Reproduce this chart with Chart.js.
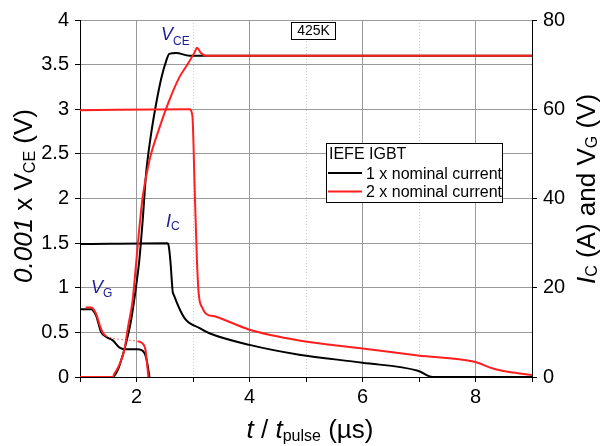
<!DOCTYPE html>
<html>
<head>
<meta charset="utf-8">
<script src="https://cdn.jsdelivr.net/npm/chart.js@4"></script>
<style>
body{margin:0;background:#fff}
#wrap{width:601px;height:446px}
</style>
</head>
<body>
<div id="wrap"><canvas id="grafico" width="601" height="446"></canvas></div>
<script>
// 1 x nominal current (preto)
var tVce1 = [1, 1.58, 1.67, 1.73, 1.79, 1.9, 2.0, 2.05, 2.11, 2.17, 2.26, 2.35, 2.44, 2.53, 2.58, 2.7, 2.94, 9];
var vce1  = [0, 0, 0.08, 0.19, 0.32, 0.62, 1.05, 1.31, 1.76, 2.28, 2.73, 3.07, 3.35, 3.55, 3.62, 3.63, 3.6, 3.6];
var tIc1 = [1, 2.55, 2.57, 2.6, 2.64, 2.66, 2.85, 3.11, 3.29, 4.0, 4.88, 6.0, 6.98, 7.24, 9];
var ic1  = [29.8, 30, 29.4, 26, 19.2, 18.4, 13.2, 11, 9.8, 7.2, 5.0, 3.2, 1.4, 0, 0];
var tVg1 = [1, 1.2, 1.25, 1.29, 1.37, 1.46, 1.58, 1.7, 1.82, 2.02, 2.14, 2.18, 2.23];
var vg1  = [15.2, 15.2, 14.6, 13.6, 10.2, 9.0, 8.2, 6.6, 6.2, 6.2, 5.4, 3.8, 0];

// 2 x nominal current (vermelho)
var tVce2 = [1, 1.58, 1.61, 1.67, 1.73, 1.79, 1.85, 1.93, 1.99, 2.04, 2.11, 2.23, 2.41, 2.58, 2.76, 2.91, 3.03, 3.07, 3.14, 3.23, 9];
var vce2  = [0, 0, 0.04, 0.1, 0.19, 0.32, 0.56, 0.85, 1.25, 1.6, 2.02, 2.43, 2.8, 3.1, 3.36, 3.51, 3.64, 3.69, 3.63, 3.6, 3.6];
var tIc2 = [1, 2.94, 2.99, 3.03, 3.07, 3.1, 3.17, 3.23, 3.41, 4.0, 4.88, 6.0, 6.98, 7.98, 8.31, 8.66, 9];
var ic2  = [59.8, 60, 58.4, 42, 26, 18.8, 15.4, 14.2, 13.5, 10.6, 8.2, 6.4, 4.8, 3.4, 1.9, 1.0, 0.45];
var tVg2 = [1.1, 1.2, 1.25, 1.29, 1.35, 1.4, 1.46, 2.02, 2.1, 2.16, 2.18, 2.21];
var vg2  = [15.6, 15.6, 15, 14, 11.6, 10, 9.2, 8.0, 7.6, 6.0, 3.8, 0];

var xTicks = [2, 4, 6, 8];
var legendTitle = "IEFE IGBT";
var legendNames = ["1 x nominal current", "2 x nominal current"];
var tempLabel = "425K";

var PRETO = "#000000";
var VERMELHO = "#ff1f1f";
var AZUL = "#1c1c96";
var FONTE = '"Liberation Sans", Arial, sans-serif';

function pontos(t, v){
    return t.map(function(x, i){ return {x: x, y: v[i]}; });
}

function linha(dados, cor, eixo){
    return {
        data: dados,
        borderColor: cor,
        borderWidth: 2,
        pointRadius: 0,
        fill: false,
        cubicInterpolationMode: 'monotone',
        yAxisID: eixo
    };
}

// texto com subscrito e italico
function rico(ctx, partes, x, y, tam, alinhar, escSub, desloc){
    function fonte(p){
        var s = p[2] ? Math.round(tam * escSub) : tam;
        return (p[1] == 'i' ? 'italic ' : '') + s + 'px ' + FONTE;
    }
    var w = 0;
    partes.forEach(function(p){ ctx.font = fonte(p); w += ctx.measureText(p[0]).width; });
    var cx = alinhar == 'center' ? x - w / 2 : x;
    ctx.textAlign = 'left';
    ctx.textBaseline = 'alphabetic';
    partes.forEach(function(p){
        ctx.font = fonte(p);
        ctx.fillText(p[0], cx, y + (p[2] ? tam * desloc : 0));
        cx += ctx.measureText(p[0]).width;
    });
}

var textos = {
    id: 'textos',
    afterDraw: function(chart){
        var ctx = chart.ctx;
        ctx.save();
        ctx.fillStyle = PRETO;

        // titulos dos eixos
        rico(ctx, [['t','i'],[' / ','n'],['t','i'],['pulse','n',1],[' (\u00b5s)','n']], 310, 438, 26, 'center', 0.62, 0.13);

        ctx.save();
        ctx.translate(32, 196);
        ctx.rotate(-Math.PI / 2);
        rico(ctx, [['0.001','i'],[' x V','n'],['CE','n',1],[' (V)','n']], 0, 0, 26, 'center', 0.6, 0.1);
        ctx.restore();

        ctx.save();
        ctx.translate(595, 189);
        ctx.rotate(-Math.PI / 2);
        rico(ctx, [['I','i'],['C','n',1],[' (A) and V','n'],['G','n',1],[' (V)','n']], 0, 0, 26, 'center', 0.6, 0.08);
        ctx.restore();

        // anotacoes
        ctx.fillStyle = AZUL;
        rico(ctx, [['V','i'],['CE','n',1]], 161, 40, 18, 'left', 0.66, 0.27);
        rico(ctx, [['I','i'],['C','n',1]], 166, 227, 18, 'left', 0.66, 0.15);
        rico(ctx, [['V','i'],['G','n',1]], 91, 293, 18, 'left', 0.66, 0.22);

        // caixa 425K
        ctx.fillStyle = '#fff';
        ctx.fillRect(291.5, 22.5, 44, 17);
        ctx.strokeStyle = PRETO;
        ctx.lineWidth = 1;
        ctx.strokeRect(291.5, 22.5, 44, 17);
        ctx.fillStyle = PRETO;
        ctx.font = '14px ' + FONTE;
        ctx.textAlign = 'center';
        ctx.textBaseline = 'middle';
        ctx.fillText(tempLabel, 313.5, 31.5);

        // legenda
        ctx.fillStyle = '#fff';
        ctx.fillRect(326.5, 143.5, 176, 59);
        ctx.strokeRect(326.5, 143.5, 176, 59);
        ctx.fillStyle = PRETO;
        ctx.textAlign = 'left';
        ctx.textBaseline = 'alphabetic';
        ctx.font = '16px ' + FONTE;
        ctx.fillText(legendTitle, 329, 159);
        var cores = [PRETO, VERMELHO];
        for (var i = 0; i < 2; i++) {
            var yy = 173 + i * 18.5;
            ctx.strokeStyle = cores[i];
            ctx.lineWidth = 2;
            ctx.beginPath();
            ctx.moveTo(328, yy);
            ctx.lineTo(362, yy);
            ctx.stroke();
            ctx.fillText(legendNames[i], 366, yy + 5.5);
        }
        ctx.restore();
    }
};

function vgSegmento(c){
    return (c.datasetIndex === 2 && c.p0DataIndex === 6) ? [1, 3] : undefined;
}

var grafico = new Chart(document.getElementById('grafico'), {
    type: 'line',
    data: {
        datasets: [
            linha(pontos(tVce2, vce2), VERMELHO, 'y'),
            linha(pontos(tIc2, ic2), VERMELHO, 'y1'),
            Object.assign(linha(pontos(tVg2, vg2), VERMELHO, 'y1'), {
                segment: {
                    borderDash: vgSegmento,
                    borderWidth: function(c){ return c.p0DataIndex === 6 ? 1.3 : undefined; }
                }
            }),
            linha(pontos(tVce1, vce1), PRETO, 'y'),
            linha(pontos(tIc1, ic1), PRETO, 'y1'),
            linha(pontos(tVg1, vg1), PRETO, 'y1')
        ]
    },
    options: {
        responsive: false,
        animation: false,
        layout: {padding: {top: 20, left: 0, right: 0, bottom: 0}},
        plugins: {legend: {display: false}, tooltip: {enabled: false}},
        scales: {
            x: {
                type: 'linear', min: 1, max: 9,
                afterFit: function(s){ s.height = 69; },
                ticks: {
                    stepSize: 1, color: PRETO, padding: 3,
                    font: {size: 20, family: FONTE},
                    callback: function(v){ return xTicks.indexOf(v) >= 0 ? String(v) : ''; }
                },
                grid: {
                    color: function(c){ return c.tick && c.tick.value % 2 == 0 ? '#9a9a9a' : '#cccccc'; },
                    tickColor: PRETO, tickLength: 5
                },
                border: {
                    color: PRETO, width: 1,
                    dash: function(c){ return c.tick && c.tick.value % 2 != 0 ? [1, 2] : []; }
                }
            },
            y: {
                type: 'linear', position: 'left', min: 0, max: 4,
                afterFit: function(s){ s.width = 80; },
                ticks: {
                    stepSize: 0.25, color: PRETO, padding: 6,
                    font: {size: 20, family: FONTE},
                    callback: function(v){ return (v * 2) % 1 == 0 ? String(v) : ''; }
                },
                grid: {
                    color: function(c){ return c.tick && (c.tick.value * 2) % 1 == 0 ? '#9a9a9a' : '#cccccc'; },
                    tickColor: function(c){ return c.tick && (c.tick.value * 2) % 1 == 0 ? PRETO : 'rgba(0,0,0,0)'; },
                    tickLength: 5
                },
                border: {
                    color: PRETO, width: 1,
                    dash: function(c){ return c.tick && (c.tick.value * 2) % 1 != 0 ? [1, 2] : []; }
                }
            },
            y1: {
                type: 'linear', position: 'right', min: 0, max: 80,
                afterFit: function(s){ s.width = 69; },
                ticks: {
                    stepSize: 10, color: PRETO, padding: 6,
                    font: {size: 20, family: FONTE},
                    callback: function(v){ return v % 20 == 0 ? String(v) : ''; }
                },
                grid: {
                    drawOnChartArea: false,
                    tickColor: function(c){ return c.tick && c.tick.value % 20 == 0 ? PRETO : 'rgba(0,0,0,0)'; },
                    tickLength: 5
                },
                border: {color: PRETO, width: 1}
            }
        }
    },
    plugins: [textos]
});
</script>
</body>
</html>
